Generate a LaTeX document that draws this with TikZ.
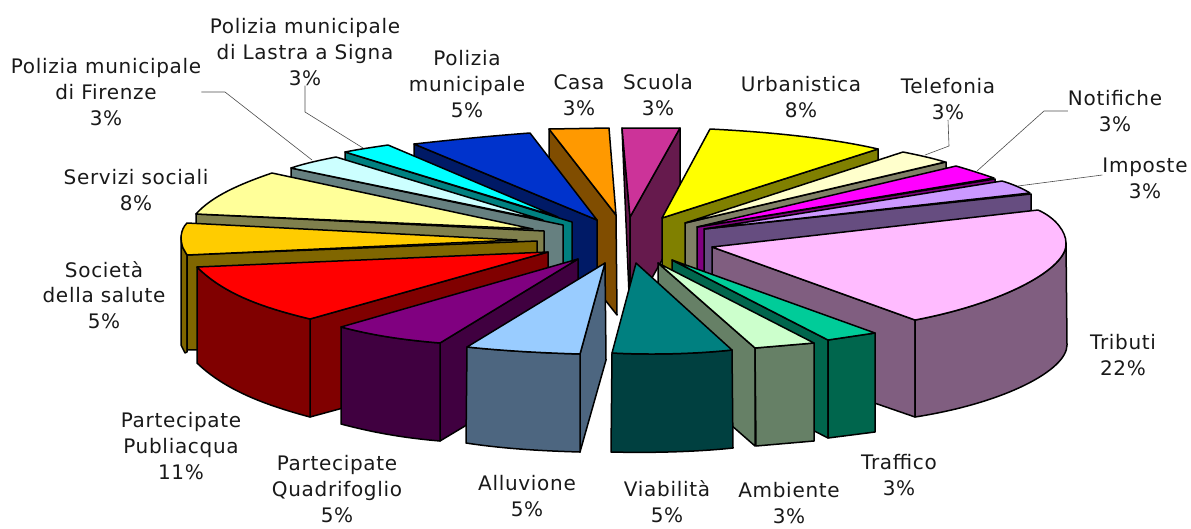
\documentclass[tikz,border=0pt]{standalone}
\usepackage{fontspec}
\setmainfont[LetterSpace=3.5]{DejaVu Sans}
\definecolor{tCasa}{HTML}{FF9900}\definecolor{sCasa}{HTML}{804D00}
\definecolor{tScu}{HTML}{CC3399}\definecolor{sScu}{HTML}{661A4D}
\definecolor{tUrb}{HTML}{FFFF00}\definecolor{sUrb}{HTML}{808000}
\definecolor{tTel}{HTML}{FFFFCC}\definecolor{sTel}{HTML}{808066}
\definecolor{tNot}{HTML}{FF00FF}\definecolor{sNot}{HTML}{800080}
\definecolor{tImp}{HTML}{CC99FF}\definecolor{sImp}{HTML}{664D80}
\definecolor{tTri}{HTML}{FFBBFF}\definecolor{sTri}{HTML}{805E80}
\definecolor{tTra}{HTML}{00CC99}\definecolor{sTra}{HTML}{00664D}
\definecolor{tAmb}{HTML}{CCFFCC}\definecolor{sAmb}{HTML}{668066}
\definecolor{tVia}{HTML}{008080}\definecolor{sVia}{HTML}{004040}
\definecolor{tAll}{HTML}{99CCFF}\definecolor{sAll}{HTML}{4D6680}
\definecolor{tQua}{HTML}{800080}\definecolor{sQua}{HTML}{400040}
\definecolor{tPub}{HTML}{FF0000}\definecolor{sPub}{HTML}{800000}
\definecolor{tSoc}{HTML}{FFCC00}\definecolor{sSoc}{HTML}{806600}
\definecolor{tSer}{HTML}{FFFF99}\definecolor{sSer}{HTML}{80804D}
\definecolor{tFir}{HTML}{CCFFFF}\definecolor{sFir}{HTML}{668080}
\definecolor{tLas}{HTML}{00FFFF}\definecolor{sLas}{HTML}{008080}
\definecolor{tPol}{HTML}{0033CC}\definecolor{sPol}{HTML}{001A66}
\tikzset{
  face/.style={draw=black,line width=1.5pt,line join=round,fill=#1},
  lab/.style={align=center,font=\fontsize{20}{25.8}\selectfont,text=black!90,inner sep=0pt},
  leader/.style={draw=black!70,line width=0.6pt}
}
\begin{document}
\begin{tikzpicture}[x=1pt,y=-1pt]
\useasboundingbox (0,0) rectangle (1191,528);
% Scuola
\path[face=sScu] (622,128)--(630,217)--(630,317)--cycle;
\path[face=sScu] (680,128)--(630,217)--(630,317)--(680,228)--cycle;
\path[face=tScu] (622,128)--(680,128)--(630,217)--cycle;
% Casa
\path[face=sCasa] (549,129)--(616,215)--(617,315)--(549,229)--cycle;
\path[face=tCasa] (549,129)--(609,128)--(616,215)--cycle;
% Urbanistica
\path[face=sUrb] (662,218)--(878,149)--(878,249)--(662,318)--cycle;
\path[face=tUrb] (710,129) .. controls (770,132) and (830,138) .. (878,149)--(662,218)--cycle;
% Telefonia
\path[face=sTel] (685,223)--(946,162)--(946,262)--(685,323)--cycle;
\path[face=tTel] (903,152) .. controls (918,155) and (932,158) .. (945,162)--(685,223)--cycle;
% Notifiche
\path[face=sNot] (697,227)--(995,179)--(995,279)--(697,327)--cycle;
\path[face=tNot] (956,166) .. controls (970,170) and (982,174) .. (994,178)--(697,227)--cycle;
% Imposte
\path[face=sImp] (704,229)--(1031,194)--(1031,294)--(704,329)--cycle;
\path[face=tImp] (1002,181) .. controls (1012,184) and (1022,188) .. (1030,193)--(704,229)--cycle;
% Tributi
\path[face=sTri] (712,247)--(915,320)--(915,417)--(712,347)--cycle;
\path[face=sTri] (1066,243) .. controls (1068,268) and (1005,303) .. (915,320)--(915,417) .. controls (1005,403) and (1067,370) .. (1067,345)--cycle;
\path[face=tTri] (712,247)--(1038,210) .. controls (1056,218) and (1066,232) .. (1066,243) .. controls (1068,268) and (1005,303) .. (915,320)--cycle;
% Polizia municipale
\path[face=sPol] (414,144)--(597,220)--(597,320)--(414,244)--cycle;
\path[face=tPol] (414,144) .. controls (450,140) and (490,136) .. (530,133)--(597,220)--cycle;
% Lastra
\path[face=sLas] (345,152)--(572,222)--(572,322)--(345,252)--cycle;
\path[face=tLas] (345,152) .. controls (360,149) and (375,147) .. (388,145)--(558,217)--cycle;
% Firenze
\path[face=sFir] (291,168)--(563,225)--(563,325)--(291,268)--cycle;
\path[face=tFir] (291,168) .. controls (306,163) and (321,160) .. (336,157)--(543,220)--cycle;
% Servizi
\path[face=sSer] (196,214)--(544,231)--(544,331)--(196,314)--cycle;
\path[face=tSer] (196,214) .. controls (212,196) and (240,184) .. (272,173)--(533,229)--cycle;
% Societa
\path[face=sSoc] (183,248)--(187,255)--(187,352)--(185,353)--(181,345)--(181,237)--cycle;
\path[face=sSoc] (187,255)--(537,241)--(537,341)--(187,350)--cycle;
\path[face=tSoc] (187,223)--(517,240)--(187,255)--(183,248) .. controls (180,240) and (180,230) .. cycle;
% Publiacqua
\path[face=sPub] (548,252)--(310,319)--(310,417)--(548,352)--cycle;
\path[face=sPub] (197,267) .. controls (225,295) and (265,308) .. (310,319)--(310,417) .. controls (265,405) and (225,390) .. (197,363)--cycle;
\path[face=tPub] (548,252)--(197,267) .. controls (225,295) and (265,308) .. (310,319)--cycle;
% Quadrifoglio
\path[face=sQua] (578,259)--(440,343)--(440,441)--(578,358)--cycle;
\path[face=sQua] (341,327) .. controls (375,336) and (405,340) .. (440,343)--(440,441) .. controls (405,438) and (375,433) .. (341,424)--cycle;
\path[face=tQua] (578,259)--(341,327) .. controls (375,336) and (405,340) .. (440,343)--cycle;
% Alluvione
\path[face=sAll] (605,263)--(580,354)--(580,452)--(606,360)--cycle;
\path[face=sAll] (467,347) .. controls (505,351) and (545,353) .. (580,354)--(580,452) .. controls (545,451) and (505,449) .. (466,443)--cycle;
\path[face=tAll] (605,263)--(467,347) .. controls (505,351) and (545,353) .. (580,354)--cycle;
% Traffico
\path[face=sTra] (672,260)--(828,340)--(828,438)--(672,358)--cycle;
\path[face=sTra] (828,340)--(875,333)--(875,432)--(828,438)--cycle;
\path[face=tTra] (672,260)--(875,333)--(828,340)--cycle;
% Ambiente
\path[face=sAmb] (658,263)--(755,348)--(755,446)--(658,361)--cycle;
\path[face=sAmb] (755,348)--(814,343)--(814,441)--(756,446)--cycle;
\path[face=tAmb] (658,263)--(814,343)--(755,348)--cycle;
% Viabilita
\path[face=sVia] (612,353) .. controls (650,355) and (695,354) .. (732,350)--(733,448) .. controls (695,452) and (650,453) .. (611,452)--cycle;
\path[face=tVia] (636,263)--(732,350) .. controls (695,354) and (650,355) .. (612,353)--cycle;
% Labels
\node[lab] (lFir) at (106,92) {Polizia municipale\\di Firenze\\3\%};
\node[lab] (lLas) at (305,52) {Polizia municipale\\di Lastra a Signa\\3\%};
\node[lab] (lPol) at (467,84) {Polizia\\municipale\\5\%};
\node[lab] (lCas) at (579,95) {Casa\\3\%};
\node[lab] (lScu) at (658,95) {Scuola\\3\%};
\node[lab] (lUrb) at (801,97) {Urbanistica\\8\%};
\node[lab] (lTel) at (948,99) {Telefonia\\3\%};
\node[lab] (lNot) at (1115,111) {Notifiche\\3\%};
\node[lab] (lImp) at (1145,178) {Imposte\\3\%};
\node[lab] (lTri) at (1123,355) {Tributi\\22\%};
\node[lab] (lTra) at (899,475) {Traffico\\3\%};
\node[lab] (lAmb) at (789,503) {Ambiente\\3\%};
\node[lab] (lVia) at (667,502) {Viabilità\\5\%};
\node[lab] (lAll) at (527,496) {Alluvione\\5\%};
\node[lab] (lQua) at (337,489) {Partecipate\\Quadrifoglio\\5\%};
\node[lab] (lPub) at (181,446) {Partecipate\\Publiacqua\\11\%};
\node[lab] (lSoc) at (104,295) {Società\\della salute\\5\%};
\node[lab] (lSer) at (136,190) {Servizi sociali\\8\%};
% Leaders
\coordinate (eFir) at (312,160);
\coordinate (eLas) at (363,148);
\coordinate (eTel) at (925,155);
\coordinate (eNot) at (977,171);
\coordinate (eImp) at (1018,186);
\coordinate (sFir) at (lFir.east |- 0,92);
\coordinate (sNot) at (lNot.west |- 0,111);
\coordinate (sImp) at (lImp.west |- 0,175);
\draw[leader] (sFir) -- (225,92) -- (eFir);
\draw[leader] (lLas.south) -- (305,112) -- (eLas);
\draw[leader] (lTel.south) -- (949,146) -- (eTel);
\draw[leader] (sNot) -- (1044,111) -- (eNot);
\draw[leader] (sImp) -- (eImp);
\end{tikzpicture}
\end{document}
